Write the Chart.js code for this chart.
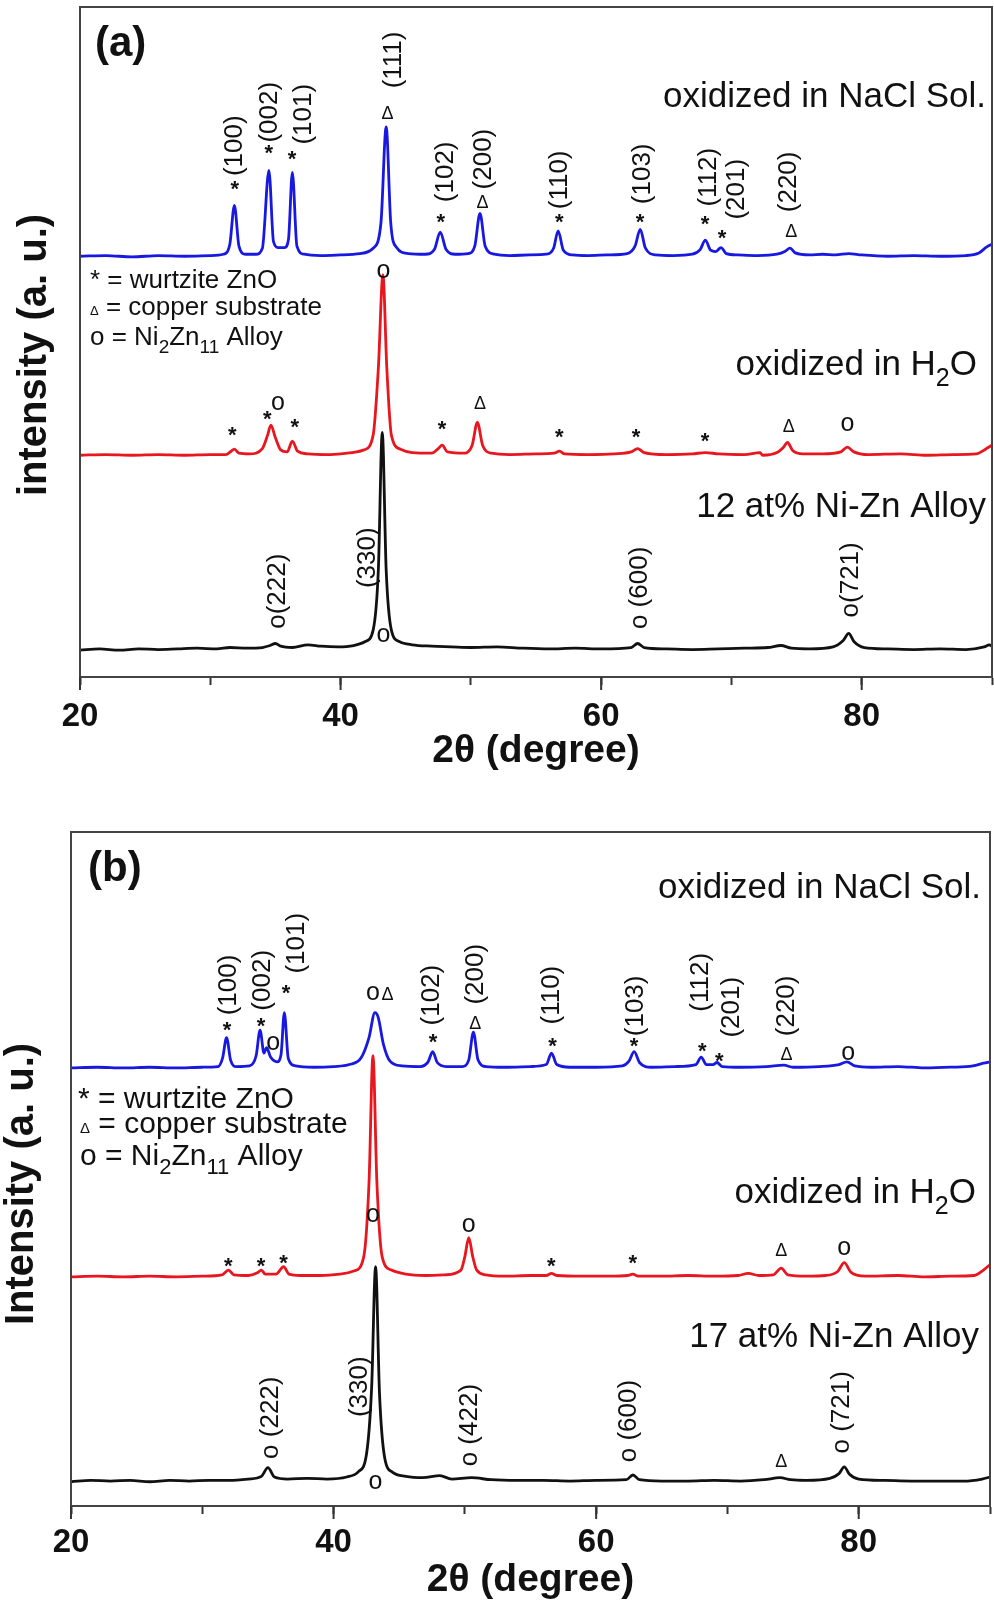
<!DOCTYPE html>
<html>
<head>
<meta charset="utf-8">
<script src="https://cdn.jsdelivr.net/npm/chart.js@4.4.1/dist/chart.umd.min.js"></script>
<style>
body { margin: 0; background: #fff; overflow: hidden; }
#wrap { position: relative; width: 994px; height: 1600px; }
canvas { position: absolute; left: 0; }
</style>
</head>
<body>
<div id="wrap">
  <canvas id="chartA" width="994" height="790" style="top:0"></canvas>
  <canvas id="chartB" width="994" height="830" style="top:800px"></canvas>
</div>
<script>
// x ticks (2 theta, degree)
const xTicks = [20, 30, 40, 50, 60, 70, 80, 90];
const xLabels = [20, 40, 60, 80];

// stacking offsets of each pattern (a.u.)
const offsetsA = { nacl: 62.8, water: 33.1, alloy: 4.0 };
const offsetsB = { nacl: 65.0, water: 34.0, alloy: 3.6 };

// (a) 12 at% Ni-Zn : [2theta, intensity above own baseline]
const naclA = [[20,0],[22,0.1],[24,-0.1],[26,0.1],[28,0],[30,0.1],[31.0,0.3],[31.5,1.8],[31.85,7.6],[32.2,1.5],[32.7,0.3],[33.5,0.3],[34.0,1.2],[34.5,12.8],[34.85,2.2],[35.2,1.3],[35.7,1.3],[36.0,2.5],[36.3,12.5],[36.65,1.5],[37.2,0.3],[38.5,0.1],[40,0.2],[41.5,0.4],[42.5,1.2],[43.1,5],[43.5,19.3],[43.85,5],[44.3,1.3],[45.2,0.4],[46.5,0.3],[47.2,1.0],[47.65,3.6],[48.1,1.0],[48.8,0.3],[49.8,0.4],[50.3,1.5],[50.7,6.4],[51.1,1.5],[51.8,0.3],[53,0.1],[54.5,0.2],[55.8,0.3],[56.35,1.2],[56.7,3.8],[57.1,0.9],[57.8,0.2],[59,0.1],[60.5,0.2],[62,0.4],[62.6,1.5],[63.0,4.0],[63.4,1.2],[64.2,0.2],[65.5,0.1],[67,0.3],[67.6,1.0],[68.0,2.4],[68.4,0.9],[68.8,0.7],[69.2,1.3],[69.6,0.4],[70.5,0.2],[72,0.1],[73.5,0.3],[74.1,0.7],[74.5,1.2],[74.9,0.5],[76,0.2],[77,0.3],[78,0.2],[79,0.4],[80,0.2],[82,0],[84,0.1],[86,0],[88,0.1],[89,0.5],[89.6,1.4],[90,1.8]];
const waterA = [[20,0],[22,0.1],[24,0],[26,0.1],[28,0],[30,0.1],[31.2,0.1],[31.6,0.6],[31.85,0.9],[32.2,0.3],[33,0.2],[34.0,1.0],[34.4,3.0],[34.65,4.5],[35.0,2.6],[35.4,0.8],[35.9,0.5],[36.3,2.1],[36.7,0.6],[37.5,0.2],[39,0.1],[40.5,0.3],[41.8,0.8],[42.5,3],[42.9,13],[43.25,26.9],[43.55,13],[43.9,3],[44.6,0.9],[45.5,0.4],[47,0.3],[47.5,1.0],[47.8,1.5],[48.2,0.5],[49.5,0.3],[50.1,1.5],[50.5,4.9],[50.9,1.5],[51.6,0.3],[53,0.1],[55,0.2],[56.4,0.3],[56.8,0.6],[57.2,0.2],[59,0.1],[61,0.2],[62.3,0.5],[62.8,1.0],[63.3,0.4],[65,0.1],[67,0.2],[68,0.4],[69,0.2],[71,0.1],[72.2,0.4],[72.4,0],[73.5,0.4],[74.0,1.2],[74.3,1.9],[74.7,0.7],[75.5,0.2],[77,0.2],[78.4,0.5],[78.9,1.2],[79.4,0.5],[80.5,0.1],[83,0.2],[85,0],[87,0.1],[88.8,0.2],[89.5,0.9],[90,1.5]];
const alloyA = [[20,0],[21.5,0.2],[23,0],[24.5,0.2],[26,0.1],[27.5,0.2],[29,0.3],[30.5,0.2],[31.5,0.4],[32.8,0.3],[34,0.4],[34.6,0.7],[35.0,1.0],[35.4,0.6],[36.3,0.4],[37.5,0.8],[38.5,0.6],[39.8,0.5],[41,0.7],[41.9,1.3],[42.5,3],[42.9,12],[43.2,32.5],[43.5,12],[43.9,3],[44.5,1.3],[45.5,0.8],[47,0.6],[48.5,0.5],[50,0.4],[52,0.5],[54,0.3],[56,0.2],[58,0.3],[60,0.2],[62.3,0.4],[62.8,1.0],[63.3,0.4],[65,0.2],[67,0.1],[69,0.2],[71,0.3],[72.8,0.4],[73.8,0.7],[74.6,0.3],[76,0.2],[77.8,0.5],[78.6,1.5],[79.0,2.5],[79.4,1.3],[80.2,0.4],[82,0.2],[84,0.1],[86,0.2],[88,0.1],[89.4,0.5],[89.8,0.8],[90,0.6]];

// (b) 17 at% Ni-Zn
const naclB = [[20,0],[22,0.1],[24,0],[26,0.1],[28,0],[30,0.1],[31.2,0.2],[31.55,1.5],[31.85,4.5],[32.15,1.2],[32.6,0.2],[33.6,0.3],[34.1,1.8],[34.4,5.6],[34.7,2.2],[34.9,3.0],[35.2,1.6],[35.7,0.9],[36.0,2.0],[36.25,8.2],[36.55,1.4],[37.1,0.3],[38.5,0.1],[40,0.2],[41.2,0.5],[42.1,1.5],[42.7,4.5],[43.15,8.2],[43.4,7.5],[43.8,3.5],[44.3,1.0],[45.2,0.3],[46.6,0.2],[47.2,0.9],[47.55,2.4],[47.9,0.8],[48.6,0.2],[49.8,0.2],[50.3,1.2],[50.65,5.3],[51.0,1.2],[51.6,0.2],[53,0.1],[55,0.2],[56.2,0.5],[56.6,2.2],[57.0,0.5],[58,0.1],[60,0.1],[62,0.3],[62.5,1.0],[62.9,2.4],[63.3,0.8],[64.2,0.1],[66,0.2],[67.6,0.5],[68.0,1.6],[68.4,0.5],[68.9,0.5],[69.2,0.8],[69.6,0.2],[71,0.1],[73,0.2],[74.3,0.4],[75,0.1],[77,0.2],[78.5,0.5],[79.1,0.9],[79.7,0.3],[81,0.1],[83,0.2],[85,0],[87,0.1],[88.7,0.3],[89.5,0.7],[90,0.9]];
const waterB = [[20,0],[22,0.1],[24,0],[26,0.1],[28,0],[30,0.1],[31.5,0.3],[32.0,1.0],[32.4,0.3],[33.5,0.2],[34.2,0.6],[34.5,1.0],[34.8,0.4],[35.6,0.4],[36.2,1.5],[36.6,0.4],[37.5,0.2],[39,0.2],[40.5,0.4],[41.6,0.9],[42.3,3],[42.7,14],[43.0,32.8],[43.3,14],[43.7,3],[44.4,1.0],[45.5,0.4],[47,0.2],[48.5,0.3],[49.7,1.0],[50.0,3],[50.3,5.8],[50.6,3],[50.9,1.0],[51.6,0.3],[53,0.1],[55,0.2],[56.2,0.2],[56.6,0.5],[57,0.2],[59,0.1],[61,0.1],[62.4,0.2],[62.8,0.4],[63.2,0.1],[65,0.1],[67,0.2],[69,0.1],[70.8,0.2],[71.6,0.5],[72.4,0.2],[73.5,0.3],[74.1,1.3],[74.6,0.3],[76,0.1],[77.5,0.2],[78.4,0.8],[78.9,2.1],[79.4,0.7],[80.5,0.1],[83,0.2],[85,0],[87,0.1],[88.8,0.2],[89.5,1.0],[90,1.8]];
const alloyB = [[20,0],[21.5,0.2],[23,0.1],[24.5,0.2],[26,0],[27.5,0.2],[29,0.1],[30.5,0.2],[32,0.2],[33.5,0.4],[34.5,0.8],[35.0,2.1],[35.5,0.7],[36.5,0.4],[38,0.5],[39.5,0.4],[41,0.7],[41.9,1.5],[42.5,4],[42.9,14],[43.2,31.9],[43.5,13],[43.9,3.5],[44.5,1.4],[45.5,0.8],[46.8,0.6],[48.1,0.9],[49,0.4],[50.5,0.6],[52,0.3],[54,0.2],[56,0.2],[58,0.1],[60,0.2],[62.3,0.3],[62.8,1.0],[63.3,0.3],[65,0.1],[67,0.1],[69,0.2],[71,0.1],[72.8,0.3],[74,0.6],[74.8,0.3],[76,0.2],[77.8,0.5],[78.5,1.2],[78.9,2.2],[79.3,1.1],[80,0.4],[82,0.2],[84,0.1],[86,0.1],[88,0.1],[89.4,0.4],[90,0.7]];

// phase markers [2theta, a.u., symbol]
const markersA = [
  [31.9,73.4,'*'],[34.5,78.7,'*'],[36.3,77.9,'*'],[43.6,84.2,'Δ'],[47.7,68.5,'*'],[50.9,70.9,'Δ'],[56.8,68.5,'*'],[63.0,68.5,'*'],[68.0,68.2,'*'],[69.3,66.0,'*'],[74.6,66.7,'Δ'],
  [43.3,60.6,'o'],[31.7,36.6,'*'],[34.4,39.1,'*'],[35.2,40.9,'o'],[36.5,37.8,'*'],[47.8,37.5,'*'],[50.7,41.0,'Δ'],[56.8,36.4,'*'],[62.7,36.4,'*'],[68.0,35.7,'*'],[74.4,37.5,'Δ'],[78.9,37.8,'o'],
  [43.3,6.3,'o']
];
const markersB = [
  [31.9,71.1,'*'],[34.5,71.8,'*'],[35.4,68.7,'o'],[36.4,76.6,'*'],[43.0,76.1,'o'],[44.1,76.1,'Δ'],[47.6,69.4,'*'],[50.8,71.8,'Δ'],[56.7,68.7,'*'],[62.9,68.7,'*'],[68.1,68.1,'*'],[69.4,66.6,'*'],[74.5,67.2,'Δ'],[79.2,67.2,'o'],
  [32.0,36.1,'*'],[34.5,36.1,'*'],[36.2,36.6,'*'],[43.0,43.2,'o'],[50.3,41.7,'o'],[56.6,36.2,'*'],[62.8,36.6,'*'],[74.1,38.0,'Δ'],[78.9,38.3,'o'],
  [43.2,3.6,'o'],[74.1,6.8,'Δ']
];

// Miller indices [2theta, a.u., text] (written vertically)
const hklA = [
  [31.9,79.3,'(100)'],[34.6,84.3,'(002)'],[37.2,84.0,'(101)'],[44.1,92.1,'(111)'],[48.1,75.4,'(102)'],[51.0,77.3,'(200)'],[56.8,74.2,'(110)'],[63.2,75.1,'(103)'],[68.3,74.6,'(112)'],[70.4,72.8,'(201)'],[74.4,73.9,'(220)'],
  [35.2,12.8,'o(222)'],[42.1,17.8,'(330)'],[63.0,13.3,'o (600)'],[79.2,14.5,'o(721)']
];
const hklB = [
  [32.0,77.3,'(100)'],[34.6,78.0,'(002)'],[37.2,83.5,'(101)'],[47.5,75.8,'(102)'],[50.8,78.9,'(200)'],[56.6,75.8,'(110)'],[63.0,74.2,'(103)'],[68.0,77.7,'(112)'],[70.3,74.0,'(201)'],[74.5,74.2,'(220)'],
  [35.2,13.1,'o (222)'],[42.0,17.7,'(330)'],[50.4,12.0,'o (422)'],[62.5,12.6,'o (600)'],[78.7,13.9,'o (721)']
];

const FAMILY = "'Liberation Sans', Arial, sans-serif";
Chart.defaults.font.family = FAMILY;
Chart.defaults.color = '#111';

function rich(ctx, parts, x, y, size, align) {
  const fonts = parts.map(p => (p[1] === 'sub' ? Math.round(size * 0.72) : p[1] === 'small' ? Math.round(size * 0.5) : size) + 'px ' + FAMILY);
  const widths = parts.map((p, i) => { ctx.font = fonts[i]; return ctx.measureText(p[0]).width; });
  let cx = align === 'right' ? x - widths.reduce((s, w) => s + w, 0) : x;
  ctx.textAlign = 'left';
  ctx.textBaseline = 'alphabetic';
  parts.forEach((p, i) => {
    ctx.font = fonts[i];
    ctx.fillText(p[0], cx, y + (p[1] === 'sub' ? size * 0.3 : 0));
    cx += widths[i];
  });
}

const glyphFont = { '*': 'bold 22px ' + FAMILY, 'Δ': '18px ' + FAMILY, 'o': '25px ' + FAMILY };

function glyph(ctx, ch, cx, cy) {
  ctx.font = glyphFont[ch];
  const m = ctx.measureText(ch);
  const w = m.actualBoundingBoxLeft + m.actualBoundingBoxRight;
  const h = m.actualBoundingBoxAscent + m.actualBoundingBoxDescent;
  ctx.textAlign = 'left';
  ctx.textBaseline = 'alphabetic';
  ctx.fillText(ch, cx - w / 2 + m.actualBoundingBoxLeft, cy + h / 2 - m.actualBoundingBoxDescent);
}

function decor(p) {
  return {
    id: 'decor',
    afterDraw(chart) {
      const { ctx, chartArea: a, scales: { x, y } } = chart;
      ctx.save();
      ctx.strokeStyle = '#444';
      ctx.lineWidth = 2;
      ctx.strokeRect(a.left, a.top, a.right - a.left, a.bottom - a.top);
      // longer major ticks
      ctx.strokeStyle = '#333';
      xLabels.forEach(v => {
        const px = x.getPixelForValue(v);
        ctx.beginPath(); ctx.moveTo(px, a.bottom); ctx.lineTo(px, a.bottom + 13); ctx.stroke();
      });
      ctx.fillStyle = '#111';
      p.markers.forEach(([t, v, s]) => glyph(ctx, s, x.getPixelForValue(t), y.getPixelForValue(v)));
      ctx.font = '26px ' + FAMILY;
      ctx.textAlign = 'center';
      ctx.textBaseline = 'middle';
      p.hkl.forEach(([t, v, s]) => {
        ctx.save();
        ctx.translate(x.getPixelForValue(t), y.getPixelForValue(v));
        ctx.rotate(-Math.PI / 2);
        ctx.fillText(s, 0, 0);
        ctx.restore();
      });
      // y title
      ctx.save();
      ctx.translate(p.yTitle[0], p.yTitle[1]);
      ctx.rotate(-Math.PI / 2);
      ctx.font = 'bold 40px ' + FAMILY;
      ctx.textAlign = 'center';
      ctx.textBaseline = 'middle';
      ctx.fillText(p.yTitle[2], 0, 0);
      ctx.restore();
      // panel letter
      ctx.font = 'bold 42px ' + FAMILY;
      ctx.textAlign = 'left';
      ctx.textBaseline = 'alphabetic';
      ctx.fillText(p.letter[2], p.letter[0], p.letter[1]);
      // captions and legend
      p.texts.forEach(([parts, tx, ty, size, align]) => rich(ctx, parts, tx, ty, size, align));
      ctx.restore();
    }
  };
}

function series(pts, off) {
  return pts.map(([t, v]) => ({ x: t, y: v + off }));
}

function makePanel(id, p) {
  new Chart(document.getElementById(id), {
    type: 'line',
    data: {
      datasets: [
        { data: series(p.alloy, p.off.alloy), borderColor: '#111' },
        { data: series(p.water, p.off.water), borderColor: '#e8161e' },
        { data: series(p.nacl, p.off.nacl), borderColor: '#1818e0' }
      ].map(d => Object.assign(d, { borderWidth: 2.8, pointRadius: 0, cubicInterpolationMode: 'monotone', fill: false }))
    },
    options: {
      responsive: false,
      animation: false,
      layout: { padding: p.padding, autoPadding: false },
      plugins: { legend: { display: false }, tooltip: { enabled: false } },
      scales: {
        x: {
          type: 'linear', min: 20, max: 90,
          afterBuildTicks: s => { s.ticks = xTicks.map(v => ({ value: v })); },
          afterFit: s => { s.height = p.xHeight; s.paddingLeft = 0; s.paddingRight = 0; },
          ticks: {
            autoSkip: false, maxRotation: 0, padding: p.tickPad, color: '#111',
            font: { size: 33, weight: 'bold' },
            callback: v => xLabels.includes(v) ? String(v) : ''
          },
          grid: { drawOnChartArea: false, tickLength: 8, tickWidth: 2, tickColor: '#333' },
          border: { display: true, color: '#444', width: 2 },
          title: { display: true, text: '2θ (degree)', color: '#111', font: { size: 39, weight: 'bold' }, padding: { top: 0, bottom: p.titlePad } }
        },
        y: { display: false, min: 0, max: 100 }
      }
    },
    plugins: [decor(p)]
  });
}

const water = [['oxidized in H', 'n'], ['2', 'sub'], ['O', 'n']];

makePanel('chartA', {
  nacl: naclA, water: waterA, alloy: alloyA, off: offsetsA,
  markers: markersA, hkl: hklA,
  padding: { left: 80, right: 2, top: 7, bottom: 0 },
  xHeight: 113, tickPad: 12, titlePad: 15,
  yTitle: [35, 355, 'intensity (a. u.)'],
  letter: [95, 56, '(a)'],
  texts: [
    [[['oxidized in NaCl Sol.', 'n']], 986, 107, 35, 'right'],
    [water, 977, 375, 35, 'right'],
    [[['12 at% Ni-Zn Alloy', 'n']], 986, 517, 35, 'right'],
    [[['*', 'n'], [' = wurtzite ZnO', 'n']], 90, 288, 26, 'left'],
    [[['Δ', 'small'], [' = copper substrate', 'n']], 90, 315, 26, 'left'],
    [[['o = Ni', 'n'], ['2', 'sub'], ['Zn', 'n'], ['11', 'sub'], [' Alloy', 'n']], 90, 345, 26, 'left']
  ]
});

makePanel('chartB', {
  nacl: naclB, water: waterB, alloy: alloyB, off: offsetsB,
  markers: markersB, hkl: hklB,
  padding: { left: 71, right: 4, top: 32, bottom: 0 },
  xHeight: 124, tickPad: 9, titlePad: 26,
  yTitle: [22, 384, 'Intensity (a. u.)'],
  letter: [88, 81, '(b)'],
  texts: [
    [[['oxidized in NaCl Sol.', 'n']], 981, 98, 35, 'right'],
    [water, 976, 403, 35, 'right'],
    [[['17 at% Ni-Zn Alloy', 'n']], 979, 547, 35, 'right'],
    [[['*', 'n'], [' = wurtzite ZnO', 'n']], 78, 308, 30, 'left'],
    [[['Δ', 'small'], [' = copper substrate', 'n']], 80, 333, 30, 'left'],
    [[['o = Ni', 'n'], ['2', 'sub'], ['Zn', 'n'], ['11', 'sub'], [' Alloy', 'n']], 80, 365, 30, 'left']
  ]
});
</script>
</body>
</html>
